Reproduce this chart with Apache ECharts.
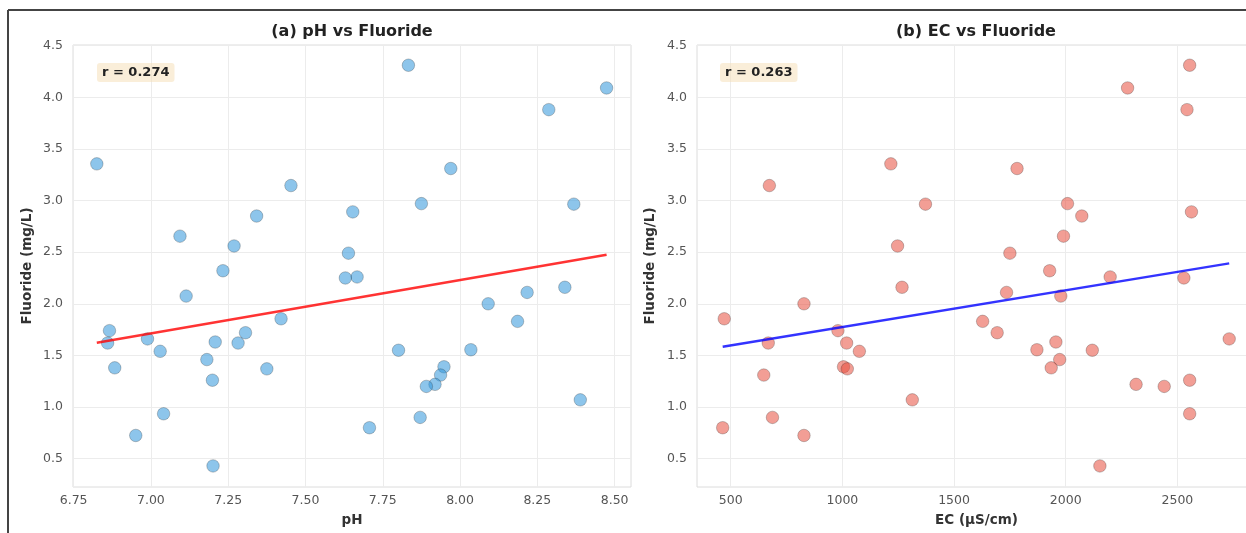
<!DOCTYPE html>
<html><head><meta charset="utf-8">
<script src="https://cdn.jsdelivr.net/npm/echarts@6/dist/echarts.min.js"></script>
<style>html,body{margin:0;padding:0;background:#fff}#c{width:1246px;height:533px}</style>
</head><body><div id="c"></div>
<script>
// Fluoride (mg/L), shared by both panels
const fluoride = [4.31, 4.09, 3.88, 3.355, 3.31, 3.145, 2.97, 2.965, 2.89, 2.85, 2.655, 2.56, 2.49, 2.32, 2.26, 2.25, 2.16, 2.11, 2.075, 2.00, 1.855, 1.83, 1.74, 1.72, 1.66, 1.63, 1.62, 1.62, 1.555, 1.55, 1.54, 1.46, 1.39, 1.38, 1.37, 1.31, 1.26, 1.22, 1.20, 1.07, 0.935, 0.90, 0.80, 0.725, 0.43];
const ph = [7.833, 8.474, 8.287, 6.825, 7.970, 7.453, 7.875, 8.368, 7.653, 7.342, 7.094, 7.269, 7.639, 7.233, 7.667, 7.629, 8.339, 8.217, 7.114, 8.091, 7.421, 8.186, 6.866, 7.306, 6.989, 7.208, 6.860, 7.282, 8.035, 7.801, 7.030, 7.181, 7.948, 6.883, 7.375, 7.937, 7.199, 7.919, 7.891, 8.389, 7.041, 7.871, 7.707, 6.951, 7.201];
const ec = [2555, 2277, 2543, 1217, 1782, 673, 2008, 1372, 2563, 2072, 1990, 1247, 1750, 1928, 2199, 2529, 1267, 1735, 1978, 828, 471, 1628, 980, 1693, 2732, 1956, 668, 1019, 1871, 2119, 1076, 1973, 1005, 1935, 1022, 648, 2555, 2315, 2441, 1313, 2555, 687, 464, 828, 2153];

const phTicks = [6.75, 7.00, 7.25, 7.50, 7.75, 8.00, 8.25, 8.50];
const ecTicks = [500, 1000, 1500, 2000, 2500];
const yTicks = [0.5, 1.0, 1.5, 2.0, 2.5, 3.0, 3.5, 4.0, 4.5];
const titles = ['(a) pH vs Fluoride', '(b) EC vs Fluoride'];
const xNames = ['pH', 'EC (µS/cm)'];
const yName = 'Fluoride (mg/L)';
const rLabels = ['r = 0.274', 'r = 0.263'];

const FONT = 'DejaVu Sans';

function fitLine(xs, ys) {
  const n = xs.length;
  let sx = 0, sy = 0, sxx = 0, sxy = 0;
  for (let i = 0; i < n; i++) { sx += xs[i]; sy += ys[i]; sxx += xs[i] * xs[i]; sxy += xs[i] * ys[i]; }
  const b = (n * sxy - sx * sy) / (n * sxx - sx * sx);
  const a = (sy - b * sx) / n;
  const x0 = Math.min.apply(null, xs), x1 = Math.max.apply(null, xs);
  return [[x0, a + b * x0], [x1, a + b * x1]];
}

const pairs = (xs) => xs.map((x, i) => [x, fluoride[i]]);

function xAxisOf(idx, min, max, ticks, fmt, name) {
  return {
    gridIndex: idx, type: 'value', min: min, max: max,
    axisLine: { show: false },
    axisTick: { show: false, customValues: ticks },
    axisLabel: { customValues: ticks, formatter: fmt, color: '#555', fontSize: 12.5, fontFamily: FONT, margin: 7 },
    splitLine: { show: true, lineStyle: { color: '#ececec', width: 1 } },
    name: name, nameLocation: 'middle', nameGap: 26,
    nameTextStyle: { fontWeight: 'bold', fontSize: 13.5, color: '#333', fontFamily: FONT }
  };
}
function yAxisOf(idx, gap) {
  return {
    gridIndex: idx, type: 'value', min: 0.226, max: 4.506,
    axisLine: { show: false },
    axisTick: { show: false, customValues: yTicks },
    axisLabel: { customValues: yTicks, formatter: v => v.toFixed(1), color: '#555', fontSize: 12.5, fontFamily: FONT, margin: 10 },
    splitLine: { show: true, lineStyle: { color: '#ececec', width: 1 } },
    name: yName, nameLocation: 'middle', nameGap: gap,
    nameTextStyle: { fontWeight: 'bold', fontSize: 13.5, color: '#333', fontFamily: FONT }
  };
}

const chart = echarts.init(document.getElementById('c'), null, { renderer: 'canvas' });
chart.setOption({
  animation: false,
  backgroundColor: '#fff',
  grid: [
    { left: 73, top: 45, width: 558, height: 442, show: true, borderColor: '#dcdcdc', borderWidth: 1, outerBoundsMode: 'none', containLabel: false },
    { left: 697, top: 45, width: 559, height: 442, show: true, borderColor: '#dcdcdc', borderWidth: 1, outerBoundsMode: 'none', containLabel: false }
  ],
  xAxis: [
    xAxisOf(0, 6.748, 8.553, phTicks, v => v.toFixed(2), xNames[0]),
    xAxisOf(1, 349, 2852, ecTicks, v => String(v), xNames[1])
  ],
  yAxis: [yAxisOf(0, 39), yAxisOf(1, 40)],
  series: [
    { type: 'scatter', xAxisIndex: 0, yAxisIndex: 0, data: pairs(ph), symbolSize: 12.5,
      itemStyle: { color: 'rgba(52,152,219,0.7)', borderColor: 'rgba(30,30,30,0.45)', borderWidth: 0.7 }, z: 2 },
    { type: 'line', xAxisIndex: 0, yAxisIndex: 0, data: fitLine(ph, fluoride), symbol: 'none',
      lineStyle: { color: 'rgba(255,0,0,0.8)', width: 2.5 }, z: 3, silent: true },
    { type: 'scatter', xAxisIndex: 1, yAxisIndex: 1, data: pairs(ec), symbolSize: 12.5,
      itemStyle: { color: 'rgba(231,76,60,0.68)', borderColor: 'rgba(30,30,30,0.45)', borderWidth: 0.7 }, z: 2 },
    { type: 'line', xAxisIndex: 1, yAxisIndex: 1, data: fitLine(ec, fluoride), symbol: 'none',
      lineStyle: { color: 'rgba(0,0,255,0.8)', width: 2.5 }, z: 3, silent: true }
  ],
  graphic: [
    { type: 'line', shape: { x1: 8, y1: 10, x2: 1246, y2: 10 }, style: { stroke: '#444', lineWidth: 2 }, z: 100 },
    { type: 'line', shape: { x1: 8, y1: 10, x2: 8, y2: 533 }, style: { stroke: '#444', lineWidth: 2 }, z: 100 },
    { type: 'text', x: 352, y: 32, style: { text: titles[0], font: 'bold 16px ' + FONT, fill: '#222', align: 'center', verticalAlign: 'middle' }, z: 100 },
    { type: 'text', x: 976, y: 32, style: { text: titles[1], font: 'bold 16px ' + FONT, fill: '#222', align: 'center', verticalAlign: 'middle' }, z: 100 },
    { type: 'text', x: 97, y: 63, style: { text: rLabels[0], font: 'bold 13px ' + FONT, fill: '#222', backgroundColor: 'rgba(245,222,179,0.5)', padding: [3, 5, 3, 5], borderRadius: 3 }, z: 100 },
    { type: 'text', x: 720, y: 63, style: { text: rLabels[1], font: 'bold 13px ' + FONT, fill: '#222', backgroundColor: 'rgba(245,222,179,0.5)', padding: [3, 5, 3, 5], borderRadius: 3 }, z: 100 }
  ]
});
</script></body></html>
